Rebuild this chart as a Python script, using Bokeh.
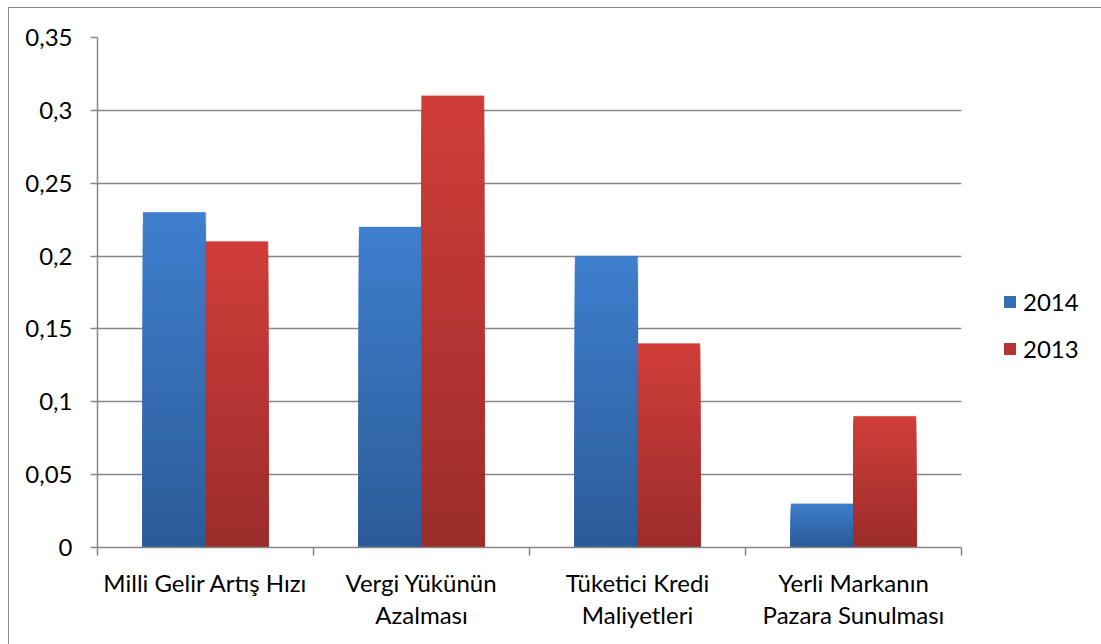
from bokeh.plotting import figure
from bokeh.models import (ColumnDataSource, Range1d, FixedTicker, Legend, LegendItem)
from bokeh.layouts import row
from bokeh.embed import file_html
from bokeh.resources import INLINE
import numpy as np

# ---- data ----
categories = ["Milli Gelir Artış Hızı", "Vergi Yükünün\nAzalması",
              "Tüketici Kredi\nMaliyetleri", "Yerli Markanın\nPazara Sunulması"]
series_names = ["2014", "2013"]
values_2014 = [0.23, 0.22, 0.20, 0.03]
values_2013 = [0.21, 0.31, 0.14, 0.09]
y_ticks = [0, 0.05, 0.10, 0.15, 0.20, 0.25, 0.30, 0.35]
y_tick_labels = ["0", "0,05", "0,1", "0,15", "0,2", "0,25", "0,3", "0,35"]

# ---- style ----
FONT = "Lato"
GRAY = "#878787"
blue_top, blue_bot = (0x3E, 0x7E, 0xCD), (0x2C, 0x5C, 0x98)
red_top, red_bot = (0xD0, 0x3D, 0x39), (0x9C, 0x2D, 0x2B)
BAR_W = 0.289
N_BANDS = 30

H = 636
OX, OY = 9, 8          # canvas offset in the page (margin + border)
W1 = 963 - OX          # main figure width
W2 = 1093 - W1         # legend figure width

p = figure(width=W1, height=H, output_backend="svg", toolbar_location=None,
           x_range=Range1d(0, 4), y_range=Range1d(0, 0.35),
           min_border_left=97 - OX, min_border_right=2,
           min_border_top=37 - OY, min_border_bottom=H - (547 - OY))
p.outline_line_color = None
p.background_fill_color = "white"
p.border_fill_color = "white"


def hexcol(c):
    return "#%02x%02x%02x" % tuple(int(round(v)) for v in c)


def band_source(vals, offset, ctop, cbot):
    xs, tops, cols = [], [], []
    for k in range(N_BANDS - 1, -1, -1):
        t = k / (N_BANDS - 1)
        col = hexcol([cb + (ct - cb) * t for ct, cb in zip(ctop, cbot)])
        for i, v in enumerate(vals):
            xs.append(i + 0.5 + offset)
            tops.append(v * (k + 1) / N_BANDS)
            cols.append(col)
    return ColumnDataSource(dict(x=xs, top=tops, color=cols))


# soft shadows
for vals, off in ((values_2014, -BAR_W / 2), (values_2013, BAR_W / 2)):
    p.vbar(x=[i + 0.5 + off + 0.006 for i in range(len(vals))], width=BAR_W,
           top=[v - 0.001 for v in vals], bottom=-0.002, fill_color="#000000",
           fill_alpha=0.10, line_color=None)

p.vbar(x="x", top="top", bottom=0, width=BAR_W, fill_color="color", line_color="color",
       line_width=0.3, source=band_source(values_2014, -BAR_W / 2, blue_top, blue_bot))
p.vbar(x="x", top="top", bottom=0, width=BAR_W, fill_color="color", line_color="color",
       line_width=0.3, source=band_source(values_2013, BAR_W / 2, red_top, red_bot))

# axes
yax = p.yaxis[0]
yax.ticker = FixedTicker(ticks=y_ticks)
yax.major_label_overrides = {t: l for t, l in zip(y_ticks, y_tick_labels)}
yax.major_label_text_font = FONT
yax.major_label_text_font_size = "24px"
yax.major_label_text_color = "#000000"
yax.major_tick_out = 7
yax.major_tick_in = 0
yax.minor_tick_out = 0
yax.minor_tick_in = 0
yax.major_label_standoff = 18
yax.axis_line_color = GRAY
yax.axis_line_width = 1.5
yax.major_tick_line_color = GRAY
yax.major_tick_line_width = 1.5

xax = p.xaxis[0]
centers = [i + 0.5 for i in range(len(categories))]
xax.ticker = FixedTicker(ticks=centers, minor_ticks=list(range(len(categories) + 1)))
xax.major_label_overrides = {c: l for c, l in zip(centers, categories)}
xax.major_label_text_font = FONT
xax.major_label_text_font_size = "24px"
xax.major_label_text_color = "#000000"
xax.major_label_text_line_height = 1.12
xax.major_tick_out = 0
xax.major_tick_in = 0
xax.minor_tick_out = 8
xax.minor_tick_in = 0
xax.minor_tick_line_color = GRAY
xax.minor_tick_line_width = 1.5
xax.major_label_standoff = 12
xax.axis_line_color = GRAY
xax.axis_line_width = 1.5

p.xgrid.visible = False
p.ygrid.ticker = FixedTicker(ticks=y_ticks)
p.ygrid.grid_line_color = GRAY
p.ygrid.grid_line_width = 1.5

# ---- legend panel ----
q = figure(width=W2, height=H, output_backend="svg", toolbar_location=None,
           x_range=Range1d(0, 1), y_range=Range1d(0, 1),
           x_axis_location=None, y_axis_location=None,
           min_border_left=0, min_border_right=0, min_border_top=0, min_border_bottom=0)
q.outline_line_color = None
q.xgrid.visible = False
q.ygrid.visible = False
q.background_fill_color = "white"
q.border_fill_color = "white"

r14 = q.vbar(x=[0.5], top=[0], bottom=[0], width=0.1,
             fill_color=hexcol([(a + b) / 2 for a, b in zip(blue_top, blue_bot)]), line_color=None)
r13 = q.vbar(x=[0.5], top=[0], bottom=[0], width=0.1,
             fill_color=hexcol([(a + b) / 2 for a, b in zip(red_top, red_bot)]), line_color=None)

legend = Legend(items=[LegendItem(label=series_names[0], renderers=[r14]),
                       LegendItem(label=series_names[1], renderers=[r13])],
                location=(1002 - (OX + W1), 184), orientation="vertical",
                glyph_width=15, glyph_height=15, label_height=22, spacing=18,
                label_standoff=6, padding=0, margin=0,
                border_line_color=None, background_fill_alpha=0,
                label_text_font=FONT, label_text_font_size="24px", label_text_color="#000000")
q.add_layout(legend, "center")

layout = row(p, q, spacing=0)
layout.styles = {"margin-left": "8px", "margin-top": "7px",
                 "border-left": "1px solid #8a8a8a", "border-top": "1px solid #8a8a8a"}

open("out.html", "w").write(file_html(layout, INLINE))
